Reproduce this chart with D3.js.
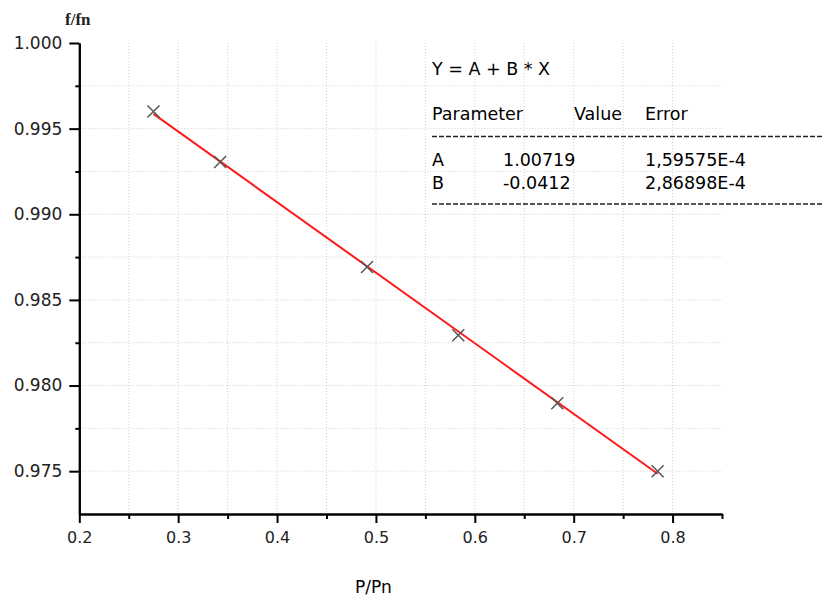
<!DOCTYPE html>
<html>
<head>
<meta charset="utf-8">
<script src="https://cdn.jsdelivr.net/npm/d3@7"></script>
<style>
  body { margin: 0; background: #fff; }
  text { font-family: "DejaVu Sans", Arial, sans-serif; }
</style>
</head>
<body>
<script>
const m = { width: 825, height: 600 }

// measured points
const xs = [0.275, 0.3424, 0.491, 0.5833, 0.6834, 0.7849]
const ys = [0.996, 0.99305, 0.98692, 0.98294, 0.97897, 0.975]

// linear fit
const fitA = 1.00719
const fitB = -0.0412

const xMajor = [0.2, 0.3, 0.4, 0.5, 0.6, 0.7, 0.8]
const xMinor = [0.25, 0.35, 0.45, 0.55, 0.65, 0.75, 0.85]
const yMajor = [0.975, 0.980, 0.985, 0.990, 0.995, 1.000]
const yMinor = [0.9775, 0.9825, 0.9875, 0.9925, 0.9975]

const tableHead = ['Parameter', 'Value', 'Error']
const tableRows = [
  ['A', '1.00719', '1,59575E-4'],
  ['B', '-0.0412', '2,86898E-4']
]

const svg = d3.select('body').append('svg')
  .attr('width', m.width)
  .attr('height', m.height)

const x = d3.scaleLinear().domain([0.2, 0.85]).range([79.3, 722])
const y = d3.scaleLinear().domain([0.9725, 1.0]).range([514, 43])

const g = svg.append('g')

// grid
g.selectAll('.vgrid')
  .data(xMajor.concat(xMinor).filter(d => d > 0.2 && d < 0.85))
  .enter()
  .append('line')
    .attr('x1', d => x(d)).attr('x2', d => x(d))
    .attr('y1', y(1.0)).attr('y2', y(0.9725))
    .attr('stroke', '#cfcfcf')
    .attr('stroke-dasharray', '1,2')

g.selectAll('.hgrid')
  .data(yMajor.concat(yMinor).filter(d => d < 1.0))
  .enter()
  .append('line')
    .attr('x1', x(0.2)).attr('x2', x(0.85))
    .attr('y1', d => y(d)).attr('y2', d => y(d))
    .attr('stroke', '#cfcfcf')
    .attr('stroke-dasharray', '1,2')

// axes
const xAxis = g.append('g')
  .attr('transform', `translate(0,${y(0.9725)})`)
  .call(d3.axisBottom(x).tickValues(xMajor).tickFormat(d3.format('.1f')).tickSize(9).tickSizeOuter(0))
xAxis.append('g')
  .call(d3.axisBottom(x).tickValues(xMinor).tickFormat('').tickSize(5).tickSizeOuter(0))

const yAxis = g.append('g')
  .attr('transform', `translate(${x(0.2)},0)`)
  .call(d3.axisLeft(y).tickValues(yMajor).tickFormat(d3.format('.3f')).tickSize(10).tickSizeOuter(0))
yAxis.append('g')
  .call(d3.axisLeft(y).tickValues(yMinor).tickFormat('').tickSize(4).tickSizeOuter(0))

g.selectAll('.domain').attr('stroke', '#000').attr('stroke-width', 2)
g.selectAll('.tick line').attr('stroke', '#000').attr('stroke-width', 2)
g.selectAll('.tick text')
  .attr('fill', '#222')
  .style('font-family', '"DejaVu Sans", Arial, sans-serif')
xAxis.selectAll('.tick text').attr('font-size', 16).attr('y', 18)
yAxis.selectAll('.tick text').attr('font-size', 17).attr('dx', -4)

// fit line
const line = d3.line()
  .x(d => x(d))
  .y(d => y(fitA + fitB * d))
g.append('path')
  .datum([xs[0], xs[xs.length - 1]])
  .attr('d', line)
  .attr('fill', 'none')
  .attr('stroke', '#ff1a1a')
  .attr('stroke-width', 2)

// markers
const s = 6
g.selectAll('.pt')
  .data(xs.map((d, i) => [d, ys[i]]))
  .enter()
  .append('path')
    .attr('d', d => {
      const px = x(d[0]), py = y(d[1])
      return `M${px - s},${py - s}L${px + s},${py + s}M${px - s},${py + s}L${px + s},${py - s}`
    })
    .attr('stroke', '#555')
    .attr('stroke-width', 1.5)

// axis titles
svg.append('text')
  .attr('x', 65).attr('y', 25)
  .attr('font-size', 17)
  .attr('font-weight', 'bold')
  .attr('fill', '#222')
  .style('font-family', '"Liberation Serif", "Times New Roman", serif')
  .text('f/fn')

svg.append('text')
  .attr('x', 355).attr('y', 593)
  .attr('font-size', 17)
  .text('P/Pn')

// fit table
const tbl = svg.append('g')
tbl.append('text')
  .attr('x', 432).attr('y', 75)
  .attr('font-size', 17.5)
  .text('Y = A + B * X')

const colX = [432, 574, 645]
tbl.selectAll('.head')
  .data(tableHead)
  .enter()
  .append('text')
    .attr('x', (d, i) => colX[i])
    .attr('y', 120)
    .attr('font-size', 17.5)
    .text(d => d)

const rowX = [432, 503, 645]
tableRows.forEach((row, r) => {
  tbl.selectAll('.row' + r)
    .data(row)
    .enter()
    .append('text')
      .attr('x', (d, i) => rowX[i])
      .attr('y', 166 + r * 23)
      .attr('font-size', 17.5)
      .text(d => d)
})

tbl.selectAll('.sep')
  .data([136.5, 204])
  .enter()
  .append('line')
    .attr('x1', 432).attr('x2', 824)
    .attr('y1', d => d).attr('y2', d => d)
    .attr('stroke', '#222')
    .attr('stroke-width', 1.3)
    .attr('stroke-dasharray', '5,2')
</script>
</body>
</html>
